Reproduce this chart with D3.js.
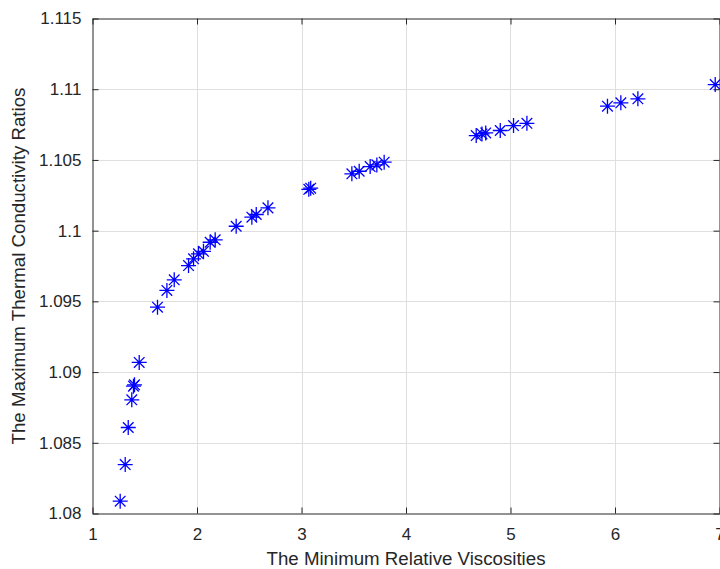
<!DOCTYPE html>
<html>
<head>
    <script type="text/javascript" src="https://cdn.jsdelivr.net/npm/d3@7/dist/d3.min.js"></script>
    <style>
        body { margin: 0; background: #fff; }
        svg { display: block; font-family: "Liberation Sans", Arial, Helvetica, sans-serif; }
    </style>
</head>
<body>
    <div id="viz"></div>
    <script type="text/javascript">

    // values
    var viscosity = [1.265, 1.313, 1.342, 1.376, 1.392, 1.402, 1.447, 1.622, 1.712, 1.782,
                     1.919, 1.967, 2.014, 2.062, 2.126, 2.174, 2.375, 2.525, 2.567, 2.679,
                     3.070, 3.088, 3.482, 3.552, 3.657, 3.721, 3.791,
                     4.672, 4.727, 4.763, 4.902, 5.029, 5.157,
                     5.928, 6.056, 6.219, 6.959];
    var conductivity = [1.08087, 1.08346, 1.08608, 1.08804, 1.08900, 1.08910, 1.09068, 1.09459, 1.09577, 1.09652,
                        1.09753, 1.09801, 1.09836, 1.09854, 1.09918, 1.09935, 1.10031, 1.10095, 1.10114, 1.10161,
                        1.10292, 1.10300, 1.10402, 1.10420, 1.10453, 1.10465, 1.10484,
                        1.10672, 1.10684, 1.10691, 1.10708, 1.10743, 1.10759,
                        1.10880, 1.10904, 1.10932, 1.11033];
    var xTicks = [1, 2, 3, 4, 5, 6, 7];
    var yTicks = [1.08, 1.085, 1.09, 1.095, 1.1, 1.105, 1.11, 1.115];
    var xLabel = "The Minimum Relative Viscosities";
    var yLabel = "The Maximum Thermal Conductivity Ratios";

    // plot box (note: "top" is taken by window.top, so use other names)
    var W = 720, H = 569;
    var padL = 92.5, padR = 719.5, padT = 18.5, padB = 513.5;
    var axisColor = "#262626";
    var gridColor = "#dfdfdf";
    var tickLen = 6;

    var svg = d3.select("#viz").append("svg")
        .attr("width", W)
        .attr("height", H);

    var x = d3.scaleLinear().domain([1, 7]).range([padL, padR]);
    var y = d3.scaleLinear().domain([1.08, 1.115]).range([padB, padT]);

    // grid
    svg.append("g").selectAll("line").data(xTicks.slice(1, -1)).enter()
        .append("line")
        .attr("x1", function(d) { return Math.round(x(d)) + 0.5; })
        .attr("x2", function(d) { return Math.round(x(d)) + 0.5; })
        .attr("y1", padT).attr("y2", padB)
        .style("stroke", gridColor);
    svg.append("g").selectAll("line").data(yTicks.slice(1, -1)).enter()
        .append("line")
        .attr("y1", function(d) { return Math.round(y(d)) + 0.5; })
        .attr("y2", function(d) { return Math.round(y(d)) + 0.5; })
        .attr("x1", padL).attr("x2", padR)
        .style("stroke", gridColor);

    // axes with inside ticks, box on
    var fmtX = d3.format("d");
    var fmtY = function(d) { return d3.format(".3~f")(d); };
    var gx = svg.append("g").attr("transform", "translate(0," + padB + ")")
        .call(d3.axisBottom(x).tickValues(xTicks).tickSizeInner(-tickLen).tickSizeOuter(0).tickPadding(14).tickFormat(fmtX));
    var gxTop = svg.append("g").attr("transform", "translate(0," + padT + ")")
        .call(d3.axisTop(x).tickValues(xTicks).tickSizeInner(-tickLen).tickSizeOuter(0).tickFormat(""));
    var gy = svg.append("g").attr("transform", "translate(" + padL + ",0)")
        .call(d3.axisLeft(y).tickValues(yTicks).tickSizeInner(-tickLen).tickSizeOuter(0).tickPadding(11).tickFormat(fmtY));
    var gyRight = svg.append("g").attr("transform", "translate(" + padR + ",0)")
        .call(d3.axisRight(y).tickValues(yTicks).tickSizeInner(-tickLen).tickSizeOuter(0).tickFormat(""));

    [gx, gxTop, gy, gyRight].forEach(function(g) {
        g.selectAll("path, line").style("stroke", axisColor);
        g.selectAll("text")
            .style("fill", axisColor)
            .style("font-family", "'Liberation Sans', Arial, sans-serif")
            .style("font-size", "17px");
    });

    // labels
    svg.append("text")
        .attr("x", (padL + padR) / 2)
        .attr("y", 565)
        .attr("text-anchor", "middle")
        .style("font-size", "18.7px")
        .style("fill", axisColor)
        .text(xLabel);

    svg.append("text")
        .attr("transform", "translate(25," + ((padT + padB) / 2) + ") rotate(-90)")
        .attr("text-anchor", "middle")
        .style("font-size", "18.7px")
        .style("fill", axisColor)
        .text(yLabel);

    // asterisk markers
    var r = 7.5, rd = r * Math.SQRT1_2;
    var star = "M" + (-r) + ",0L" + r + ",0M0," + (-r) + "L0," + r +
               "M" + (-rd) + "," + (-rd) + "L" + rd + "," + rd +
               "M" + (-rd) + "," + rd + "L" + rd + "," + (-rd);

    svg.append("g").selectAll("path").data(viscosity).enter()
        .append("path")
        .attr("transform", function(d, i) { return "translate(" + x(d) + "," + y(conductivity[i]) + ")"; })
        .attr("d", star)
        .style("fill", "none")
        .style("stroke", "#0000ff")
        .style("stroke-width", 1.3);

    </script>
</body>
</html>
